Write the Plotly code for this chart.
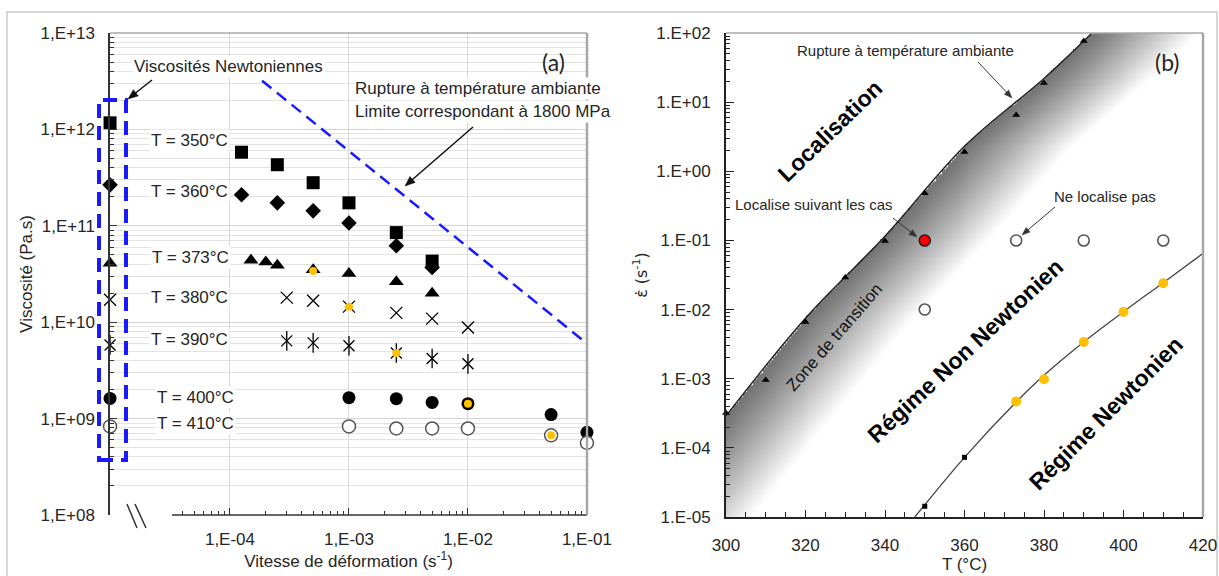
import numpy as np
import plotly.graph_objects as go

# ---------------- data : panel (a) ----------------
rate_350 = [1.25e-4, 2.5e-4, 5e-4, 1e-3, 2.5e-3, 5e-3]
visc_350 = [5.8e11, 4.3e11, 2.8e11, 1.73e11, 8.5e10, 4.3e10]
rate_360 = [1.25e-4, 2.5e-4, 5e-4, 1e-3, 2.5e-3, 5e-3]
visc_360 = [2.1e11, 1.73e11, 1.43e11, 1.07e11, 6.2e10, 3.7e10]
rate_373 = [1.5e-4, 2e-4, 2.5e-4, 5e-4, 1e-3, 2.5e-3, 5e-3]
visc_373 = [4.4e10, 4.2e10, 3.9e10, 3.5e10, 3.2e10, 2.63e10, 2.0e10]
rate_380 = [3e-4, 5e-4, 1e-3, 2.5e-3, 5e-3, 1e-2]
visc_380 = [1.8e10, 1.67e10, 1.45e10, 1.25e10, 1.09e10, 8.8e9]
rate_390 = [3e-4, 5e-4, 1e-3, 2.5e-3, 5e-3, 1e-2]
visc_390 = [6.4e9, 6.1e9, 5.7e9, 4.8e9, 4.2e9, 3.7e9]
rate_400 = [1e-3, 2.5e-3, 5e-3, 1e-2, 5e-2, 1e-1]
visc_400 = [1.65e9, 1.61e9, 1.47e9, 1.43e9, 1.1e9, 7.2e8]
rate_410 = [1e-3, 2.5e-3, 5e-3, 1e-2, 5e-2, 1e-1]
visc_410 = [8.3e8, 7.9e8, 7.9e8, 7.9e8, 6.7e8, 5.6e8]
# Newtonian viscosities (broken-axis column)
newt_temps = ["350", "360", "373", "380", "390", "400", "410"]
newt_visc = [1.17e12, 2.66e11, 4.1e10, 1.71e10, 5.8e9, 1.62e9, 8.3e8]
# orange highlighted points (onset of Newtonian regime)
orange_rate = [5e-4, 1e-3, 2.5e-3, 1e-2, 5e-2]
orange_visc = [3.4e10, 1.45e10, 4.8e9, 1.43e9, 6.7e8]
# rupture limit (1800 MPa)
lim_rate = [1.86e-4, 1e-1]
lim_visc = [3.2e12, 6e9]
temp_labels = ["T = 350°C", "T = 360°C", "T = 373°C", "T = 380°C", "T = 390°C", "T = 400°C", "T = 410°C"]
xa_ticks = [1e-4, 1e-3, 1e-2, 1e-1]
xa_text = ["1,E-04", "1,E-03", "1,E-02", "1,E-01"]
ya_ticks = [1e8, 1e9, 1e10, 1e11, 1e12, 1e13]
ya_text = ["1,E+08", "1,E+09", "1,E+10", "1,E+11", "1,E+12", "1,E+13"]

# ---------------- data : panel (b) ----------------
rupt_T = [300, 310, 320, 330, 340, 350, 360, 373, 380, 390]
rupt_eps = [3.2e-4, 9.6e-4, 6.6e-3, 2.9e-2, 9.8e-2, 0.48, 1.9, 6.5, 18.9, 76.6]
rline_T = [300, 320, 340, 360, 380, 392.1]
rline_eps = [2.9e-4, 7.5e-3, 0.115, 2.3, 22, 100]
newt_line_T = [347.5, 350, 360, 373, 380, 390, 400, 410, 420]
newt_line_eps = [1e-5, 1.5e-5, 7.3e-5, 4.6e-4, 1.12e-3, 3.4e-3, 9.3e-3, 2.45e-2, 6.5e-2]
orange_T = [373, 380, 390, 400, 410]
orange_eps = [4.7e-4, 9.8e-4, 3.4e-3, 9.2e-3, 2.4e-2]
square_T = [350, 360]
square_eps = [1.43e-5, 7.3e-5]
red_T = [350]
red_eps = [0.1]
open_T = [350, 373, 390, 410]
open_eps = [0.01, 0.1, 0.1, 0.1]
yb_ticks = [1e-5, 1e-4, 1e-3, 1e-2, 1e-1, 1, 10, 100]
yb_text = ["1.E-05", "1.E-04", "1.E-03", "1.E-02", "1.E-01", "1.E+00", "1.E+01", "1.E+02"]
xb_ticks = [300, 320, 340, 360, 380, 400, 420]

# ---------------- layout helpers ----------------
W, H = 1219, 576
def fx(px):
    return px / W
def fy(py):
    return 1 - py / H

FONT = "Liberation Sans, Arial, sans-serif"
TXT = "#262626"
ORANGE = "#FFC000"

fig = go.Figure()

# ---------- panel (a) traces ----------
def add_a(x, y, sym, size, color="black", line=None, xaxis="x"):
    fig.add_trace(go.Scatter(
        x=x, y=y, mode="markers", xaxis=xaxis, yaxis="y", cliponaxis=False,
        marker=dict(symbol=sym, size=size, color=color, line=line or dict(width=0)),
        showlegend=False))

fig.add_trace(go.Scatter(x=lim_rate, y=lim_visc, mode="lines", xaxis="x", yaxis="y",
                         line=dict(color="#1a1aff", width=2.5, dash="12px,7px"),
                         showlegend=False, hoverinfo="skip"))

add_a(rate_350, visc_350, "square", 13)
add_a(rate_360, visc_360, "diamond", 12)
add_a(rate_373, visc_373, "triangle-up", 13)
add_a(rate_380, visc_380, "x-thin-open", 12, line=dict(color="#333", width=1.3))
add_a(rate_390, visc_390, "x-thin-open", 11, line=dict(color="#333", width=1.3))
add_a(rate_390, visc_390, "line-ns-open", 14, line=dict(color="#333", width=1.3))
add_a(rate_400, visc_400, "circle", 13)
add_a(rate_410, visc_410, "circle", 13, color="white", line=dict(color="#555", width=1.5))
add_a(orange_rate, orange_visc, "circle", 8, color=ORANGE)

# newtonian column on an overlaid axis (broken x-axis)
newt_x = [0] * len(newt_visc)
syms = ["square", "diamond", "triangle-up", "x-thin-open", "x-thin-open", "circle", "circle"]
sizes = [13, 12, 13, 12, 11, 13, 13]
for i in range(len(newt_visc)):
    col = "white" if i == 6 else "black"
    ln = dict(width=0)
    if i in (3, 4):
        ln = dict(color="#333", width=1.3)
    if i == 6:
        ln = dict(color="#555", width=1.5)
    add_a([newt_x[i]], [newt_visc[i]], syms[i], sizes[i], color=col, line=ln, xaxis="x3")
add_a([newt_x[4]], [newt_visc[4]], "line-ns-open", 14, line=dict(color="#333", width=1.3), xaxis="x3")

# ---------- panel (b) traces ----------
# gradient shading below the rupture line (derived from the rupture line data)
Tg = np.linspace(300, 420, 241)
lg = np.linspace(-5, 2, 281)
lr = np.log10(rline_eps)
rT = np.array(rline_T, dtype=float)
Tl = np.interp(lg, lr, rT)
slope0 = (rT[1] - rT[0]) / (lr[1] - lr[0])
low = lg < lr[0]
Tl[low] = rT[0] + (lg[low] - lr[0]) * slope0
d = Tg[None, :] - Tl[:, None]
Z = np.where(d < 0, 255.0, 115 + 140 * np.clip(d / 27.0, 0, 1) ** 1.1)
fig.add_trace(go.Heatmap(x=Tg, y=10 ** lg, z=Z, xaxis="x2", yaxis="y2",
                         colorscale=[[0, "rgb(0,0,0)"], [1, "rgb(255,255,255)"]],
                         zmin=0, zmax=255, showscale=False, hoverinfo="skip", zsmooth=False))

fig.add_trace(go.Scatter(x=rline_T, y=rline_eps, mode="lines", xaxis="x2", yaxis="y2",
                         line=dict(color="#222", width=1.5, shape="spline", smoothing=1.0),
                         showlegend=False, hoverinfo="skip", cliponaxis=True))
fig.add_trace(go.Scatter(x=newt_line_T, y=newt_line_eps, mode="lines", xaxis="x2", yaxis="y2",
                         line=dict(color="#444", width=1.3, shape="spline", smoothing=1.0),
                         showlegend=False, hoverinfo="skip", cliponaxis=True))

def add_b(x, y, sym, size, color="black", line=None):
    fig.add_trace(go.Scatter(
        x=x, y=y, mode="markers", xaxis="x2", yaxis="y2", cliponaxis=False,
        marker=dict(symbol=sym, size=size, color=color, line=line or dict(width=0)),
        showlegend=False))

add_b(rupt_T, rupt_eps, "triangle-up", 7)
add_b(square_T, square_eps, "square", 5)
add_b(orange_T, orange_eps, "circle", 10, color=ORANGE)
add_b(open_T, open_eps, "circle", 11, color="white", line=dict(color="#555", width=1.6))
add_b(red_T, red_eps, "circle", 11, color="#ff0000", line=dict(color="#222", width=1.6))

# ---------- axes ----------
minor_xa = [m * 10.0 ** e for e in range(-5, -1) for m in range(2, 10) if m * 10.0 ** e > 3.3e-5]
minor_ya = [m * 10.0 ** e for e in range(8, 13) for m in range(2, 10)]
minor_yb = [m * 10.0 ** e for e in range(-5, 2) for m in range(2, 10)]
tickfont = dict(family=FONT, size=17, color=TXT)
titlefont = dict(family=FONT, size=17, color=TXT)

x_left_log = -4.0 - (230 - 110) / 119.0   # log-axis value at the y-axis (x = 110 px)

fig.update_layout(
    width=W, height=H, margin=dict(l=0, r=0, t=0, b=0, pad=0, autoexpand=False),
    paper_bgcolor="white", plot_bgcolor="rgba(0,0,0,0)", showlegend=False,
    xaxis=dict(domain=[fx(110), fx(587)], type="log", range=[x_left_log, -0.9995], anchor="y",
               showline=False, automargin=False,
               title=dict(text="Vitesse de déformation (s<sup>-1</sup>)", font=titlefont, standoff=5),
               ticks="inside", ticklen=7, tickcolor="#333", tickwidth=1,
               tickvals=xa_ticks, ticktext=xa_text, tickfont=tickfont, ticklabelstandoff=12,
               showgrid=True, gridcolor="#d9d9d9", gridwidth=1, zeroline=False,
               minor=dict(tickvals=minor_xa, ticks="inside", ticklen=4, tickcolor="#333", showgrid=False)),
    xaxis3=dict(domain=[fx(110), fx(587)], range=[-0.0001, 1], anchor="y", overlaying="x",
                visible=False, automargin=False),
    yaxis=dict(domain=[fy(515), fy(33)], type="log", range=[8, 13], anchor="x",
               showline=True, linecolor="#333", linewidth=1.5, automargin=False,
               title=dict(text="Viscosité (Pa.s)", font=titlefont, standoff=4),
               ticks="inside", ticklen=7, tickcolor="#333",
               tickvals=ya_ticks, ticktext=ya_text, tickfont=tickfont, ticklabelstandoff=10,
               showgrid=True, gridcolor="#d4d4d4", zeroline=False,
               minor=dict(tickvals=minor_ya, ticks="inside", ticklen=4, tickcolor="#333",
                          showgrid=True, gridcolor="#e3e3e3")),
    xaxis2=dict(domain=[fx(726), fx(1203)], range=[300, 420], anchor="y2",
                showline=True, linecolor="#222", linewidth=1.8, automargin=False,
                title=dict(text="T (°C)", font=titlefont, standoff=4),
                ticks="inside", ticklen=7, tickcolor="#222",
                tickvals=xb_ticks, tickfont=tickfont, ticklabelstandoff=12,
                showgrid=False, zeroline=False,
                minor=dict(dtick=5, ticks="inside", ticklen=5, tickcolor="#222")),
    yaxis2=dict(domain=[fy(517), fy(33)], type="log", range=[-5, 2], anchor="x2",
                showline=True, linecolor="#222", linewidth=1.8, automargin=False,
                title=dict(text="ε̇ (s<sup>-1</sup>)", standoff=5,
                           font=dict(family="DejaVu Sans, sans-serif", size=16, color=TXT)),
                ticks="inside", ticklen=8, tickcolor="#222",
                tickvals=yb_ticks, ticktext=yb_text, tickfont=tickfont, ticklabelstandoff=10,
                showgrid=False, zeroline=False,
                minor=dict(tickvals=minor_yb, ticks="inside", ticklen=4, tickcolor="#222")),
)

# ---------- shapes ----------
shapes = [
    dict(type="rect", xref="paper", yref="paper", x0=fx(7), x1=fx(1217), y0=-0.02, y1=fy(12),
         line=dict(color="#d6d6d6", width=2), layer="below"),
    # broken x-axis line of panel (a)
    dict(type="line", xref="paper", yref="paper", x0=fx(172), x1=fx(587), y0=fy(515), y1=fy(515),
         line=dict(color="#333", width=1.5)),
    dict(type="line", xref="paper", yref="paper", x0=fx(110), x1=fx(587), y0=fy(33), y1=fy(33),
         line=dict(color="#a8a8a8", width=1.5)),
    dict(type="line", xref="paper", yref="paper", x0=fx(587), x1=fx(587), y0=fy(33), y1=fy(515),
         line=dict(color="#a8a8a8", width=2.5)),
    dict(type="line", xref="paper", yref="paper", x0=fx(726), x1=fx(1203), y0=fy(33), y1=fy(33),
         line=dict(color="#a8a8a8", width=1.5)),
    dict(type="line", xref="paper", yref="paper", x0=fx(1203), x1=fx(1203), y0=fy(33), y1=fy(517),
         line=dict(color="#a8a8a8", width=2.5)),
    # newtonian dashed box
    dict(type="rect", xref="paper", yref="paper", x0=fx(99), x1=fx(126), y0=fy(460), y1=fy(100),
         line=dict(color="#1a1aff", width=4, dash="14px,8px")),
    # axis break marks
    dict(type="line", xref="paper", yref="paper", x0=fx(127), x1=fx(137), y0=fy(504), y1=fy(528),
         line=dict(color="#333", width=1.5)),
    dict(type="line", xref="paper", yref="paper", x0=fx(135), x1=fx(146), y0=fy(504), y1=fy(528),
         line=dict(color="#333", width=1.5)),
]

def arrow(hx, hy, tx, ty, width=1.5, color="#111", hl=10, hw=4):
    dx, dy = hx - tx, hy - ty
    L = (dx * dx + dy * dy) ** 0.5
    ux, uy = dx / L, dy / L
    bx, by = hx - ux * hl, hy - uy * hl
    px_, py_ = -uy, ux
    shapes.append(dict(type="line", xref="paper", yref="paper",
                       x0=fx(tx), y0=fy(ty), x1=fx(bx + ux * 2), y1=fy(by + uy * 2),
                       line=dict(color=color, width=width)))
    path = "M %f,%f L %f,%f L %f,%f Z" % (
        fx(hx), fy(hy), fx(bx + px_ * hw), fy(by + py_ * hw), fx(bx - px_ * hw), fy(by - py_ * hw))
    shapes.append(dict(type="path", xref="paper", yref="paper", path=path,
                       fillcolor=color, line=dict(color=color, width=0.5)))

arrow(128, 99, 152, 80)
arrow(405, 186, 473, 127)
arrow(1012, 98, 978, 62, width=1, color="#333", hl=8, hw=3)
arrow(917, 237, 893, 218, width=1, color="#333", hl=8, hw=3)
arrow(1022, 235, 1055, 207, width=1, color="#333", hl=8, hw=3)
fig.update_layout(shapes=shapes)

# ---------- annotations ----------
ann = []
def txt(x, y, s, size=17, anchor="center", bg=None, angle=0, bold=False, color=TXT, family=FONT):
    d = dict(x=fx(x), y=fy(y), xref="paper", yref="paper", text=("<b>%s</b>" % s) if bold else s,
             showarrow=False, xanchor=anchor, yanchor="middle", textangle=angle,
             font=dict(family=family, size=size, color=color))
    if bg:
        d["bgcolor"] = bg
    ann.append(d)

label_x = [189, 189, 190, 189, 189, 195, 195]
label_y = [140, 192, 257, 297, 339, 397, 423]
for lx, ly, s in zip(label_x, label_y, temp_labels):
    txt(lx, ly, s, bg="white")
txt(228, 66, "Viscosités Newtoniennes", bg="white")
txt(353, 89, "Rupture à température ambiante", anchor="left", bg="white")
txt(353, 112, "Limite correspondant à 1800 MPa", anchor="left", bg="white")
txt(553, 62, "(a)", size=23, family="Lato, Liberation Sans, sans-serif")

txt(905, 50, "Rupture à température ambiante", size=15)
txt(1167, 62, "(b)", size=23, family="Lato, Liberation Sans, sans-serif")
txt(814, 204, "Localise suivant les cas", size=15)
txt(1105, 197, "Ne localise pas", size=15)
txt(830, 131, "Localisation", size=23, bold=True, angle=-44, color="black")
txt(834, 337, "Zone de transition", size=17, angle=-49, color="#111")
txt(965, 351, "Régime Non Newtonien", size=23, bold=True, angle=-43, color="black")
txt(1106, 413, "Régime Newtonien", size=23, bold=True, angle=-45, color="black")

fig.update_layout(annotations=ann)
fig.write_html("out.html", config={"displayModeBar": False},
               post_script="document.body.style.margin='0px';document.body.style.overflow='hidden';")
